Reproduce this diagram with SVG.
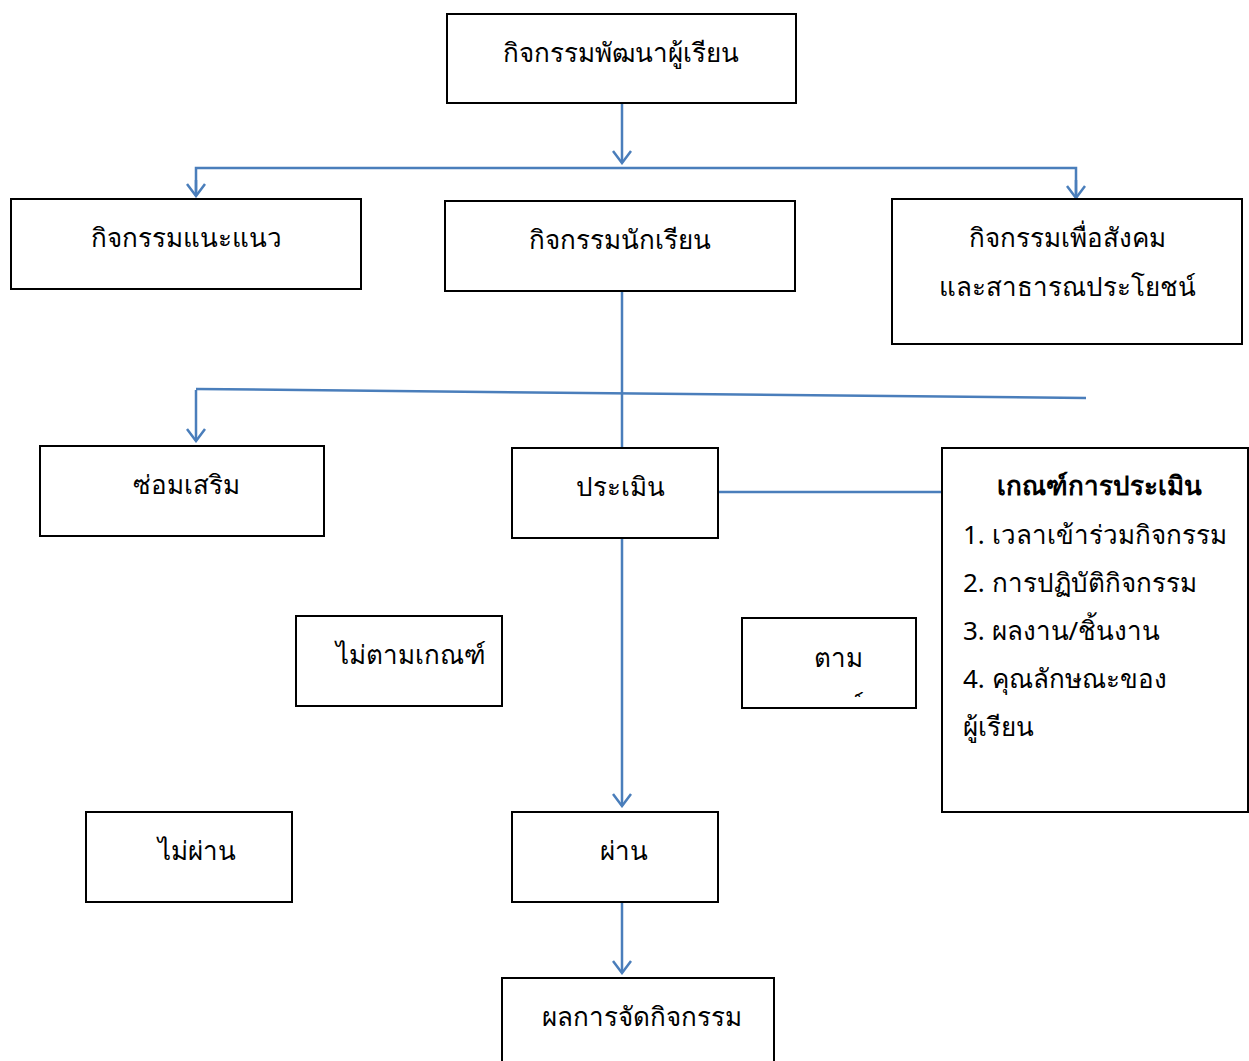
<svg xmlns="http://www.w3.org/2000/svg" width="1249" height="1061" viewBox="0 0 1249 1061">
<style>
.box{fill:#fff;stroke:#000;stroke-width:2}
.t{font-family:"Noto Sans","DejaVu Sans",sans-serif;font-size:26px;fill:#000}
.c{text-anchor:middle}
.b{font-weight:bold}
.ln{fill:none;stroke:#4A7EBB;stroke-width:2.5}
</style>
<defs>
<marker id="ah" markerUnits="userSpaceOnUse" viewBox="-14 -10 16 20" refX="0" refY="0" markerWidth="16" markerHeight="20" orient="auto">
<path d="M-12,-9 L0,0 L-12,9" fill="none" stroke="#4A7EBB" stroke-width="2.5"/>
</marker>
<clipPath id="clipTam"><rect x="743" y="619" width="172" height="78"/></clipPath>
</defs>
<rect width="1249" height="1061" fill="#fff"/>
<g id="connectors">
<line class="ln" x1="622" y1="104" x2="622" y2="163" marker-end="url(#ah)"/>
<polyline class="ln" points="196,195 196,168 1076,168 1076,197" />
<line class="ln" x1="196" y1="180" x2="196" y2="196" marker-end="url(#ah)"/>
<line class="ln" x1="1076" y1="180" x2="1076" y2="198" marker-end="url(#ah)"/>
<line class="ln" x1="622" y1="291" x2="622" y2="448"/>
<line class="ln" x1="196" y1="389" x2="1086" y2="398"/>
<line class="ln" x1="196" y1="390" x2="196" y2="441" marker-end="url(#ah)"/>
<line class="ln" x1="718" y1="492" x2="942" y2="492"/>
<line class="ln" x1="622" y1="538" x2="622" y2="806" marker-end="url(#ah)"/>
<line class="ln" x1="622" y1="902" x2="622" y2="973" marker-end="url(#ah)"/>
</g>
<g id="n1"><rect class="box" x="447" y="14" width="349" height="89"/><text class="t c" x="621" y="62">กิจกรรมพัฒนาผู้เรียน</text></g>
<g id="n2"><rect class="box" x="11" y="199" width="350" height="90"/><text class="t c" x="186" y="247">กิจกรรมแนะแนว</text></g>
<g id="n3"><rect class="box" x="445" y="201" width="350" height="90"/><text class="t c" x="620" y="249">กิจกรรมนักเรียน</text></g>
<g id="n4"><rect class="box" x="892" y="199" width="350" height="145"/><text class="t c" x="1067" y="247">กิจกรรมเพื่อสังคม</text><text class="t c" x="1067" y="296">และสาธารณประโยชน์</text></g>
<g id="n5"><rect class="box" x="40" y="446" width="284" height="90"/><text class="t c" x="186" y="494">ซ่อมเสริม</text></g>
<g id="n6"><rect class="box" x="512" y="448" width="206" height="90"/><text class="t c" x="620" y="496">ประเมิน</text></g>
<g id="n7"><rect class="box" x="942" y="448" width="306" height="364"/>
<text class="t c b" x="1099" y="495">เกณฑ์การประเมิน</text>
<text class="t" x="963" y="544">1. เวลาเข้าร่วมกิจกรรม</text>
<text class="t" x="963" y="592">2. การปฏิบัติกิจกรรม</text>
<text class="t" x="963" y="640">3. ผลงาน/ชิ้นงาน</text>
<text class="t" x="963" y="688">4. คุณลักษณะของ</text>
<text class="t" x="963" y="736">ผู้เรียน</text>
</g>
<g id="n8"><rect class="box" x="296" y="616" width="206" height="90"/><text class="t" x="336" y="664">ไม่ตามเกณฑ์</text></g>
<g id="n9"><rect class="box" x="742" y="618" width="174" height="90"/><text class="t c" x="838" y="667">ตาม</text><text class="t c" x="828" y="715" clip-path="url(#clipTam)">เกณฑ์</text></g>
<g id="n10"><rect class="box" x="86" y="812" width="206" height="90"/><text class="t c" x="197" y="860">ไม่ผ่าน</text></g>
<g id="n11"><rect class="box" x="512" y="812" width="206" height="90"/><text class="t c" x="624" y="860">ผ่าน</text></g>
<g id="n12"><rect class="box" x="502" y="978" width="272" height="100"/><text class="t c" x="642" y="1026">ผลการจัดกิจกรรม</text></g>
</svg>
